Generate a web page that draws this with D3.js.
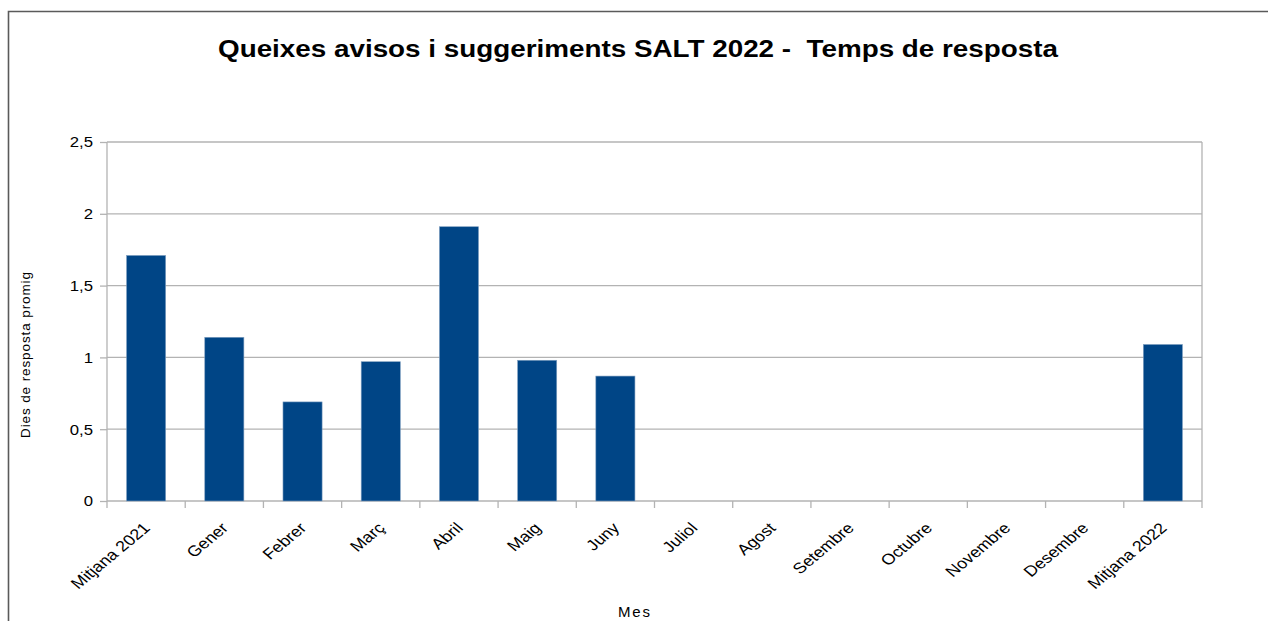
<!DOCTYPE html>
<html>
<head>
<meta charset="utf-8">
<script src="https://cdn.jsdelivr.net/npm/d3@7"></script>
<style>
  body { margin: 0; background: #fff; }
  text { font-family: "Liberation Sans", Arial, sans-serif; }
</style>
</head>
<body>
<div id="chart"></div>
<script>
var svgWidth = 1268;
var svgHeight = 621;

var margin = { top: 142, right: 66, bottom: 120, left: 107 };
var width = 1202 - margin.left;
var height = 501 - margin.top;

// chart data
var months = ["Mitjana 2021", "Gener", "Febrer", "Març", "Abril", "Maig", "Juny",
  "Juliol", "Agost", "Setembre", "Octubre", "Novembre", "Desembre", "Mitjana 2022"];
var responseDays = [1.71, 1.14, 0.69, 0.97, 1.91, 0.98, 0.87,
  null, null, null, null, null, null, 1.09];
var yTicks = [0, 0.5, 1, 1.5, 2, 2.5];

var svg = d3.select("#chart")
  .append("svg")
  .attr("width", svgWidth)
  .attr("height", svgHeight);

// outer frame of the chart object (top + left edge visible)
svg.append("path")
  .attr("d", "M8.5," + svgHeight + " L8.5,11.5 L" + svgWidth + ",11.5")
  .attr("fill", "none")
  .attr("stroke", "#5a5a5a")
  .attr("stroke-width", 1.6);

var chartGroup = svg.append("g")
  .attr("transform", `translate(${margin.left}, ${margin.top})`);

var xScale = d3.scaleBand()
  .domain(months)
  .range([0, width])
  .paddingInner(0.5)
  .paddingOuter(0.25);

var xBand = d3.scaleBand().domain(months).range([0, width]);

var yScale = d3.scaleLinear()
  .domain([0, 2.5])
  .range([height, 0]);

// gridlines
chartGroup.append("g")
  .selectAll("line")
  .data(yTicks)
  .enter()
  .append("line")
  .attr("x1", 0)
  .attr("x2", width)
  .attr("y1", d => yScale(d))
  .attr("y2", d => yScale(d))
  .attr("stroke", "#b3b3b3")
  .attr("stroke-width", 1.3);

// left axis
var leftAxis = d3.axisLeft(yScale)
  .tickValues(yTicks)
  .tickSize(7)
  .tickPadding(6)
  .tickFormat(d => String(d).replace(".", ","));

var yAxisG = chartGroup.append("g").call(leftAxis);
yAxisG.select(".domain").remove();
yAxisG.selectAll("line").attr("stroke", "#b3b3b3").attr("stroke-width", 1.3);
yAxisG.selectAll("text")
  .attr("fill", "#000")
  .style("font-size", "15.5px")
  .attr("transform", "scale(1.08,1)");

// vertical edges + category ticks
var boundaries = months.map(d => xBand(d)).concat([width]);
chartGroup.append("g")
  .selectAll("line")
  .data(boundaries)
  .enter()
  .append("line")
  .attr("x1", d => d)
  .attr("x2", d => d)
  .attr("y1", (d, i) => (i === 0 || i === boundaries.length - 1) ? 0 : height)
  .attr("y2", height + 7)
  .attr("stroke", "#b3b3b3")
  .attr("stroke-width", 1.3);

// bars
chartGroup.selectAll("rect.bar")
  .data(months.map((m, i) => ({ month: m, value: responseDays[i] })).filter(d => d.value !== null))
  .enter()
  .append("rect")
  .attr("class", "bar")
  .attr("x", d => xScale(d.month))
  .attr("y", d => yScale(d.value))
  .attr("width", xScale.bandwidth())
  .attr("height", d => height - yScale(d.value))
  .attr("fill", "#004586")
  .attr("stroke", "#7f9fc0")
  .attr("stroke-width", 0.6);

// category labels, rotated
chartGroup.append("g")
  .selectAll("text")
  .data(months)
  .enter()
  .append("text")
  .attr("transform", d => `translate(${xBand(d) + xBand.bandwidth() / 2 + 5}, ${height + 28}) scale(1.2,1) rotate(-45)`)
  .attr("text-anchor", "end")
  .attr("fill", "#000")
  .style("font-size", "15px")
  .text(d => d);

// title
svg.append("text")
  .attr("x", 638)
  .attr("y", 57)
  .attr("text-anchor", "middle")
  .attr("textLength", 840)
  .attr("lengthAdjust", "spacingAndGlyphs")
  .style("font-size", "23px")
  .style("font-weight", "bold")
  .style("white-space", "pre")
  .attr("fill", "#000")
  .text("Queixes avisos i suggeriments SALT 2022 -  Temps de resposta");

// axis titles
svg.append("text")
  .attr("transform", "translate(30, 355) rotate(-90)")
  .attr("text-anchor", "middle")
  .attr("textLength", 166)
  .attr("lengthAdjust", "spacing")
  .style("font-size", "13.5px")
  .attr("fill", "#000")
  .text("Dies de resposta promig");

svg.append("text")
  .attr("x", 634)
  .attr("y", 617)
  .attr("text-anchor", "middle")
  .attr("textLength", 32)
  .attr("lengthAdjust", "spacing")
  .style("font-size", "15px")
  .attr("fill", "#000")
  .text("Mes");
</script>
</body>
</html>
